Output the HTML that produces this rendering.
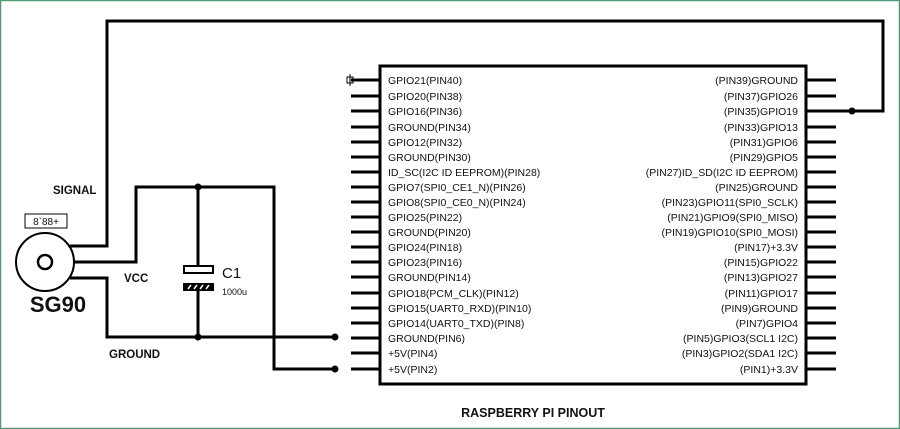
<!DOCTYPE html>
<html><head><meta charset="utf-8"><style>
html,body{margin:0;padding:0;background:#fff}
svg{display:block}
text{font-family:"Liberation Sans",Arial,sans-serif;fill:#111}
</style></head><body>
<svg width="900" height="429" viewBox="0 0 900 429" xmlns="http://www.w3.org/2000/svg">
<rect x="0.5" y="0.5" width="899" height="428" fill="#fff" stroke="#4f9a72" stroke-width="1.5"/>
<g stroke="#000" stroke-width="3" fill="none">
<rect x="380" y="66" width="426" height="318"/>
<polyline points="836,111 883,111 883,21 107,21 107,246 70,246"/>
<polyline points="74,262 136,262 136,187 274,187 274,369 335,369"/>
<polyline points="70,278 107,278 107,337 335,337"/>
<line x1="198" y1="187" x2="198" y2="266"/>
<line x1="198" y1="291" x2="198" y2="337"/>
</g>
<g stroke="#000" stroke-width="3">
<line x1="351" y1="80" x2="380" y2="80"/><line x1="351" y1="96" x2="380" y2="96"/><line x1="351" y1="111" x2="380" y2="111"/><line x1="351" y1="127" x2="380" y2="127"/><line x1="351" y1="142" x2="380" y2="142"/><line x1="351" y1="157" x2="380" y2="157"/><line x1="351" y1="172" x2="380" y2="172"/><line x1="351" y1="187" x2="380" y2="187"/><line x1="351" y1="202" x2="380" y2="202"/><line x1="351" y1="217" x2="380" y2="217"/><line x1="351" y1="232" x2="380" y2="232"/><line x1="351" y1="247" x2="380" y2="247"/><line x1="351" y1="262" x2="380" y2="262"/><line x1="351" y1="277" x2="380" y2="277"/><line x1="351" y1="293" x2="380" y2="293"/><line x1="351" y1="308" x2="380" y2="308"/><line x1="351" y1="323" x2="380" y2="323"/><line x1="351" y1="338" x2="380" y2="338"/><line x1="351" y1="353" x2="380" y2="353"/><line x1="351" y1="369" x2="380" y2="369"/>
<line x1="806" y1="80" x2="836" y2="80"/><line x1="806" y1="96" x2="836" y2="96"/><line x1="806" y1="111" x2="836" y2="111"/><line x1="806" y1="127" x2="836" y2="127"/><line x1="806" y1="142" x2="836" y2="142"/><line x1="806" y1="157" x2="836" y2="157"/><line x1="806" y1="172" x2="836" y2="172"/><line x1="806" y1="187" x2="836" y2="187"/><line x1="806" y1="202" x2="836" y2="202"/><line x1="806" y1="217" x2="836" y2="217"/><line x1="806" y1="232" x2="836" y2="232"/><line x1="806" y1="247" x2="836" y2="247"/><line x1="806" y1="262" x2="836" y2="262"/><line x1="806" y1="277" x2="836" y2="277"/><line x1="806" y1="293" x2="836" y2="293"/><line x1="806" y1="308" x2="836" y2="308"/><line x1="806" y1="323" x2="836" y2="323"/><line x1="806" y1="338" x2="836" y2="338"/><line x1="806" y1="353" x2="836" y2="353"/><line x1="806" y1="369" x2="836" y2="369"/>
</g>
<g stroke="#000" stroke-width="1" fill="none"><rect x="347" y="77" width="6" height="6"/><line x1="350" y1="74" x2="350" y2="86"/></g>
<g fill="#000"><circle cx="852" cy="111" r="3.5"/><circle cx="335" cy="337" r="3.5"/><circle cx="335" cy="369" r="3.5"/><circle cx="198" cy="187" r="3.5"/><circle cx="198" cy="337" r="3.5"/></g>
<rect x="184" y="266" width="29" height="7" fill="#fff" stroke="#000" stroke-width="2"/>
<rect x="183" y="283" width="31" height="8" fill="#000"/>
<g stroke="#fff" stroke-width="1.5"><line x1="188" y1="289" x2="191" y2="285"/><line x1="194" y1="289" x2="197" y2="285"/><line x1="200" y1="289" x2="203" y2="285"/><line x1="206" y1="289" x2="209" y2="285"/></g>
<circle cx="45" cy="262" r="29" fill="#fff" stroke="#000" stroke-width="2"/>
<circle cx="45" cy="262" r="7" fill="none" stroke="#000" stroke-width="2.5"/>
<rect x="25" y="214" width="42" height="14" fill="#fff" stroke="#000" stroke-width="1"/>
<text x="46" y="225" font-size="10" text-anchor="middle">8`88+</text>
<text x="53" y="194" font-size="11.5" font-weight="bold">SIGNAL</text>
<text x="124" y="282" font-size="11.5" font-weight="bold">VCC</text>
<text x="109" y="358" font-size="11.5" font-weight="bold">GROUND</text>
<text x="58" y="312" font-size="22" font-weight="bold" text-anchor="middle">SG90</text>
<text x="222" y="278" font-size="15">C1</text>
<text x="222" y="295" font-size="9">1000u</text>
<text x="533" y="417" font-size="12.5" font-weight="bold" text-anchor="middle">RASPBERRY PI PINOUT</text>
<g font-size="10.5">
<text x="388" y="84">GPIO21(PIN40)</text><text x="388" y="100">GPIO20(PIN38)</text><text x="388" y="115">GPIO16(PIN36)</text><text x="388" y="131">GROUND(PIN34)</text><text x="388" y="146">GPIO12(PIN32)</text><text x="388" y="161">GROUND(PIN30)</text><text x="388" y="176">ID_SC(I2C ID EEPROM)(PIN28)</text><text x="388" y="191">GPIO7(SPI0_CE1_N)(PIN26)</text><text x="388" y="206">GPIO8(SPI0_CE0_N)(PIN24)</text><text x="388" y="221">GPIO25(PIN22)</text><text x="388" y="236">GROUND(PIN20)</text><text x="388" y="251">GPIO24(PIN18)</text><text x="388" y="266">GPIO23(PIN16)</text><text x="388" y="281">GROUND(PIN14)</text><text x="388" y="297">GPIO18(PCM_CLK)(PIN12)</text><text x="388" y="312">GPIO15(UART0_RXD)(PIN10)</text><text x="388" y="327">GPIO14(UART0_TXD)(PIN8)</text><text x="388" y="342">GROUND(PIN6)</text><text x="388" y="357">+5V(PIN4)</text><text x="388" y="373">+5V(PIN2)</text>
</g>
<g font-size="10.5" text-anchor="end">
<text x="798" y="84">(PIN39)GROUND</text><text x="798" y="100">(PIN37)GPIO26</text><text x="798" y="115">(PIN35)GPIO19</text><text x="798" y="131">(PIN33)GPIO13</text><text x="798" y="146">(PIN31)GPIO6</text><text x="798" y="161">(PIN29)GPIO5</text><text x="798" y="176">(PIN27)ID_SD(I2C ID EEPROM)</text><text x="798" y="191">(PIN25)GROUND</text><text x="798" y="206">(PIN23)GPIO11(SPI0_SCLK)</text><text x="798" y="221">(PIN21)GPIO9(SPI0_MISO)</text><text x="798" y="236">(PIN19)GPIO10(SPI0_MOSI)</text><text x="798" y="251">(PIN17)+3.3V</text><text x="798" y="266">(PIN15)GPIO22</text><text x="798" y="281">(PIN13)GPIO27</text><text x="798" y="297">(PIN11)GPIO17</text><text x="798" y="312">(PIN9)GROUND</text><text x="798" y="327">(PIN7)GPIO4</text><text x="798" y="342">(PIN5)GPIO3(SCL1 I2C)</text><text x="798" y="357">(PIN3)GPIO2(SDA1 I2C)</text><text x="798" y="373">(PIN1)+3.3V</text>
</g>
</svg>
</body></html>
